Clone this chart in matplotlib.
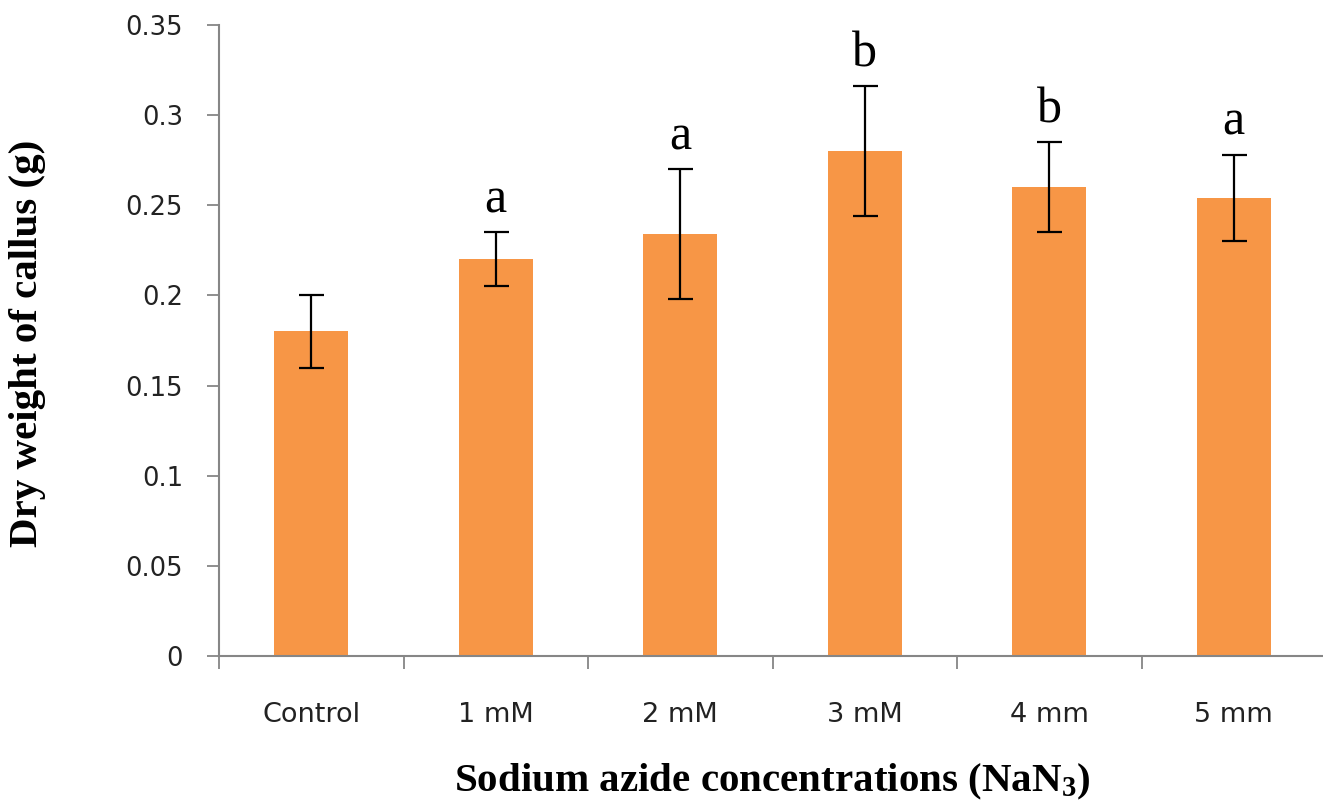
import matplotlib
matplotlib.use("Agg")
import matplotlib.pyplot as plt
import numpy as np

plt.rcParams.update({
    "font.family": "DejaVu Sans",
    "mathtext.fontset": "custom",
    "mathtext.default": "regular",
})

# ── data ──────────────────────────────────────────────
labels = ["Control", "1 mM", "2 mM", "3 mM", "4 mm", "5 mm"]
dry_weight = [0.180, 0.220, 0.234, 0.280, 0.260, 0.254]
std_err = [0.020, 0.015, 0.036, 0.036, 0.025, 0.024]
groups = ["", "a", "a", "b", "b", "a"]

C_BAR = "#F79646"
C_AXIS = "#868686"

fig = plt.figure(figsize=(13.23, 8.01), dpi=100)
fig.patch.set_facecolor("white")
ax = fig.add_axes([219 / 1323, 145 / 801, 1107 / 1323, 631 / 801])

x = np.arange(len(labels))
ax.bar(x, dry_weight, width=0.4, color=C_BAR, zorder=2)
ax.errorbar(x, dry_weight, yerr=std_err, fmt="none", ecolor="black",
            elinewidth=1.6, capsize=9, capthick=1.6, zorder=3)

# significance letters above the error bars
for xi, m, e, g in zip(x, dry_weight, std_err, groups):
    if g:
        ax.text(xi, m + e + 0.011, g, ha="center", va="baseline",
                fontsize=36, family="Liberation Serif", color="black")

ax.set_xlim(-0.5, 5.5)
ax.set_ylim(0, 0.35)
ax.set_yticks(np.arange(0, 0.351, 0.05))
ax.set_yticklabels(["0", "0.05", "0.1", "0.15", "0.2", "0.25", "0.3", "0.35"],
                   fontsize=18.5, color="#222222")
ax.set_xticks(x)
ax.set_xticklabels(labels, fontsize=19.5, color="#222222")
ax.set_xticks(np.arange(-0.5, 5.6, 1), minor=True)

ax.tick_params(axis="x", which="major", length=0, pad=33)
ax.tick_params(axis="x", which="minor", length=9, width=1.3, color=C_AXIS)
ax.tick_params(axis="y", length=9, width=1.3, color=C_AXIS, pad=17)

for side in ["top", "right"]:
    ax.spines[side].set_visible(False)
for side in ["left", "bottom"]:
    ax.spines[side].set_color(C_AXIS)
    ax.spines[side].set_linewidth(1.5)

fig.text(28 / 1323, (801 - 343) / 801, "Dry weight of callus (g)",
         rotation=90, ha="center", va="center", fontsize=29.5,
         family="Liberation Serif", fontweight="bold")
fig.text(772 / 1323, 10 / 801, "Sodium azide concentrations (NaN$_3$)",
         ha="center", va="baseline", fontsize=29.5,
         family="Liberation Serif", fontweight="bold")

plt.savefig("out.png", dpi=100)
plt.close()
